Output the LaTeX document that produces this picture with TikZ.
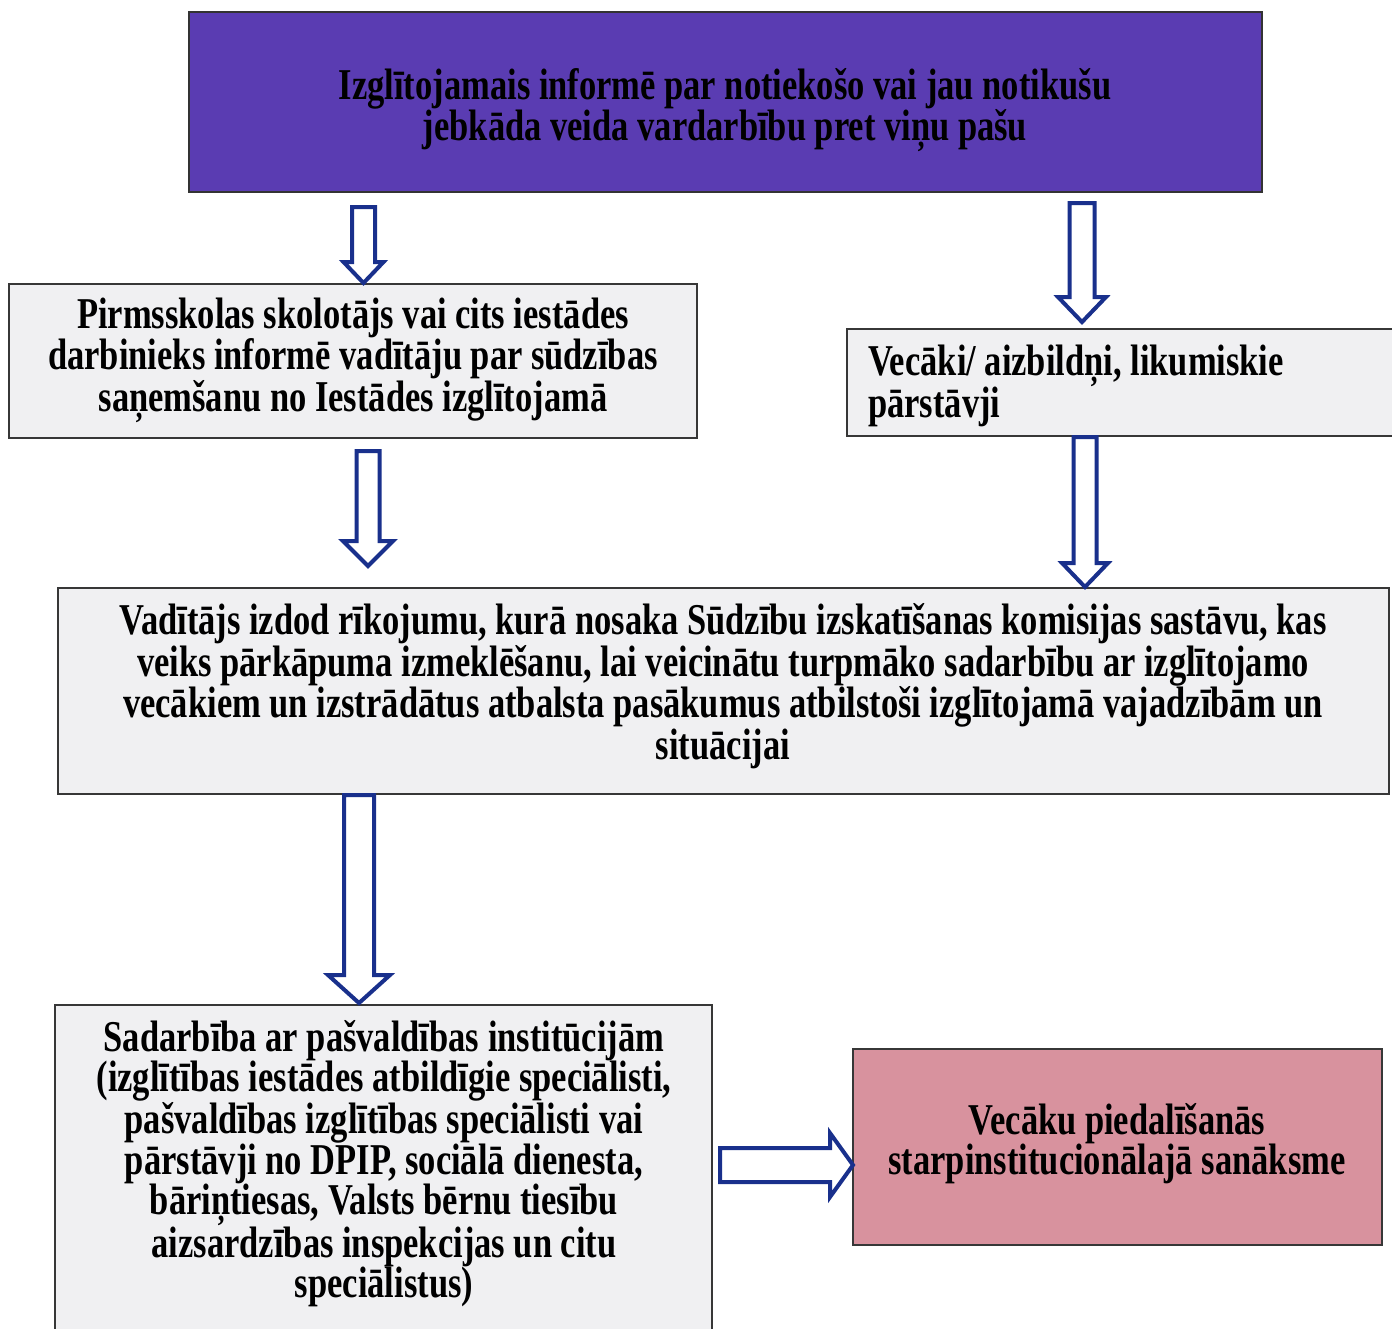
\documentclass[tikz,border=0pt]{standalone}
\usepackage{fontspec}
\newfontfamily\dfont{Liberation Serif}[FakeStretch=0.784]
\newcommand\dtext{\dfont\bfseries\fontsize{44}{40}\selectfont}
\definecolor{topfill}{RGB}{90,60,178}
\definecolor{boxfill}{RGB}{240,240,242}
\definecolor{pinkfill}{RGB}{216,146,158}
\definecolor{boxline}{RGB}{55,55,55}
\definecolor{arrowblue}{RGB}{25,48,140}
\newcommand\varrow[6]{%
  \draw[barrow] (#1-#4,#2) -- (#1+#4,#2) -- (#1+#4,#3-#6) -- (#1+#5,#3-#6) -- (#1,#3)
    -- (#1-#5,#3-#6) -- (#1-#4,#3-#6) -- cycle;}
\begin{document}
\begin{tikzpicture}[x=1pt,y=-1pt,
  box/.style={draw=boxline, line width=1.5pt, fill=boxfill, inner sep=0pt},
  txt/.style={font=\dtext, align=center, inner sep=0pt, text=black},
  barrow/.style={draw=arrowblue, line width=4pt, fill=white, line join=miter}]
\useasboundingbox (0,0) rectangle (1392,1328);
\fill[white] (0,0) rectangle (1392,1328);
\clip (0,0) rectangle (1392,1328);
% boxes
\node[box, fill=topfill, draw=black!80, minimum width=1073pt, minimum height=180pt] (boxT) at (725.5,102) {};
\node[box, minimum width=688pt, minimum height=154pt] (boxA) at (353,361) {};
\node[box, minimum width=553pt, minimum height=107pt] (boxB) at (1123.5,382.5) {};
\node[box, minimum width=1331pt, minimum height=206pt] (boxC) at (723.5,691) {};
\node[box, minimum width=657pt, minimum height=340pt] (boxD) at (383.5,1175) {};
\node[box, fill=pinkfill, minimum width=529pt, minimum height=196pt] (boxE) at (1117.5,1147) {};
% texts
\node[txt] (tT) at (725,110) {Izglītojamais informē par notiekošo vai jau notikušu\\jebkāda veida vardarbību pret viņu pašu};
\node[txt] (tA) at (353,360) {Pirmsskolas skolotājs vai cits iestādes\\darbinieks informē vadītāju par sūdzības\\saņemšanu no Iestādes izglītojamā};
\node[txt, align=left, anchor=west] (tB) at (868,386) {Vecāki/ aizbildņi, likumiskie\\pārstāvji};
\node[txt] (tC) at (723,686) {Vadītājs izdod rīkojumu, kurā nosaka Sūdzību izskatīšanas komisijas sastāvu, kas\\veiks pārkāpuma izmeklēšanu, lai veicinātu turpmāko sadarbību ar izglītojamo\\vecākiem un izstrādātus atbalsta pasākumus atbilstoši izglītojamā vajadzībām un\\situācijai};
\node[txt] (tD) at (384,1164) {Sadarbība ar pašvaldības institūcijām\\(izglītības iestādes atbildīgie speciālisti,\\pašvaldības izglītības speciālisti vai\\pārstāvji no DPIP, sociālā dienesta,\\bāriņtiesas, Valsts bērnu tiesību\\aizsardzības inspekcijas un citu\\speciālistus)};
\node[txt] (tE) at (1117,1144) {Vecāku piedalīšanās\\starpinstitucionālajā sanāksme};
% arrows
\varrow{363.5}{207}{283}{11.5}{20}{21}
\varrow{1082}{203}{322}{12.5}{24}{25}
\varrow{368}{451}{566}{11.5}{25}{25}
\varrow{1085}{437}{587}{11.5}{23}{24}
\varrow{359}{795}{1003}{15}{31}{28}
\draw[barrow] (720,1148) -- (830,1148) -- (830,1133) -- (853,1165) -- (830,1197) -- (830,1182) -- (720,1182) -- cycle;
\end{tikzpicture}
\end{document}
